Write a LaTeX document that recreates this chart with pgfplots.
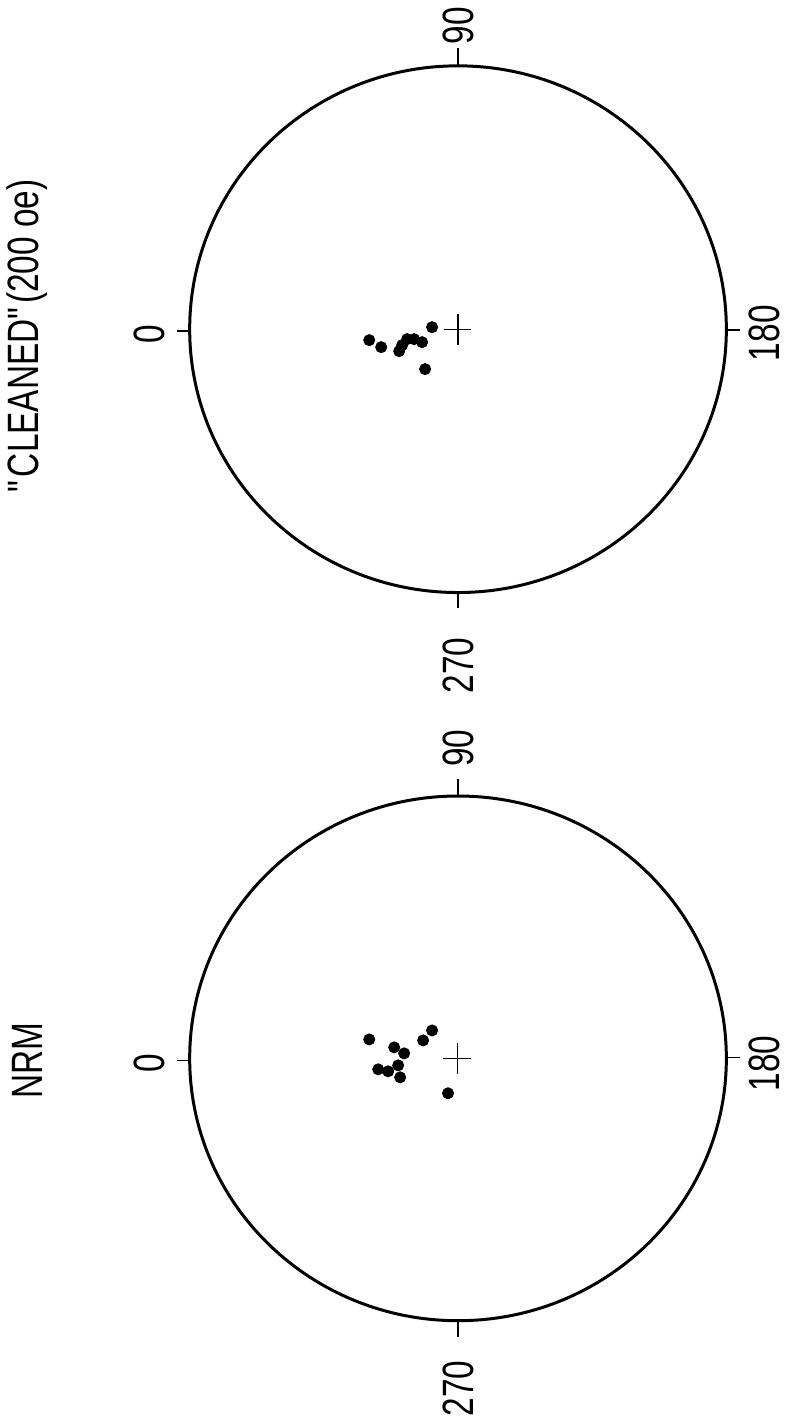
\documentclass[border=0pt]{standalone}
\usepackage{pgfplots}
\pgfplotsset{compat=1.18}
\usepackage{fontspec}
\setmainfont{Liberation Sans}[FakeStretch=0.76]
\begin{document}
\begin{tikzpicture}
\begin{axis}[
  scale only axis, width=393.5pt, height=711.5pt,
  xmin=0, xmax=787, ymin=0, ymax=1423, y dir=reverse,
  hide axis, clip=false,
]
% invisible frame
\path (axis cs:0,0) rectangle (axis cs:787,1423);
% circles
\draw[line width=1.5pt] (axis cs:459,330) ellipse [x radius=134.5pt, y radius=132pt];
\draw[line width=1.5pt] (axis cs:459,1061) ellipse [x radius=134.5pt, y radius=131.5pt];
% ticks top circle
\draw[line width=0.8pt] (axis cs:177,332) -- (axis cs:190,332);
\draw[line width=0.8pt] (axis cs:728,331) -- (axis cs:742,331);
\draw[line width=0.8pt] (axis cs:459,48) -- (axis cs:459,65);
\draw[line width=0.8pt] (axis cs:459,594) -- (axis cs:459,610);
% ticks bottom circle
\draw[line width=0.8pt] (axis cs:177,1063) -- (axis cs:190,1063);
\draw[line width=0.8pt] (axis cs:728,1060) -- (axis cs:742,1060);
\draw[line width=0.8pt] (axis cs:459,781) -- (axis cs:459,798);
\draw[line width=0.8pt] (axis cs:459,1324) -- (axis cs:459,1340);
% crosses
\addplot[black, line width=0.7pt, mark=none] coordinates {(445,330.5) (472,330.5)};
\addplot[black, line width=0.7pt, mark=none] coordinates {(459,315) (459,346)};
\addplot[black, line width=0.7pt, mark=none] coordinates {(444,1061) (472,1061)};
\addplot[black, line width=0.7pt, mark=none] coordinates {(458.5,1046) (458.5,1077)};
% CLEANED data
\addplot[only marks, mark=*, mark size=2.8pt, black] coordinates {
 (370,341) (382,348) (400,352) (403,346) (408,340) (415,340) (423,343) (433,328) (426,370)
};
% NRM data
\addplot[only marks, mark=*, mark size=2.8pt, black] coordinates {
 (370,1042) (395,1050) (405,1056) (424,1043) (433,1033) (379,1072) (389,1074) (399,1068) (401,1080) (449,1096)
};
% labels
\node[rotate=90, font=\fontsize{22}{26}\selectfont] at (axis cs:27,337) {\textquotedbl CLEANED\textquotedbl(200 oe)};
\node[rotate=90, font=\fontsize{22}{26}\selectfont] at (axis cs:27,1063) {NRM};
\node[rotate=90, font=\fontsize{22}{26}\selectfont] at (axis cs:150,335) {0};
\node[rotate=90, font=\fontsize{22}{26}\selectfont] at (axis cs:766,334) {180};
\node[rotate=90, font=\fontsize{22}{26}\selectfont] at (axis cs:459,26) {90};
\node[rotate=90, font=\fontsize{22}{26}\selectfont] at (axis cs:459,667) {270};
\node[rotate=90, font=\fontsize{22}{26}\selectfont] at (axis cs:150,1066) {0};
\node[rotate=90, font=\fontsize{22}{26}\selectfont] at (axis cs:766,1066) {180};
\node[rotate=90, font=\fontsize{22}{26}\selectfont] at (axis cs:459,750) {90};
\node[rotate=90, font=\fontsize{22}{26}\selectfont] at (axis cs:459,1392) {270};
\end{axis}
\end{tikzpicture}
\end{document}
